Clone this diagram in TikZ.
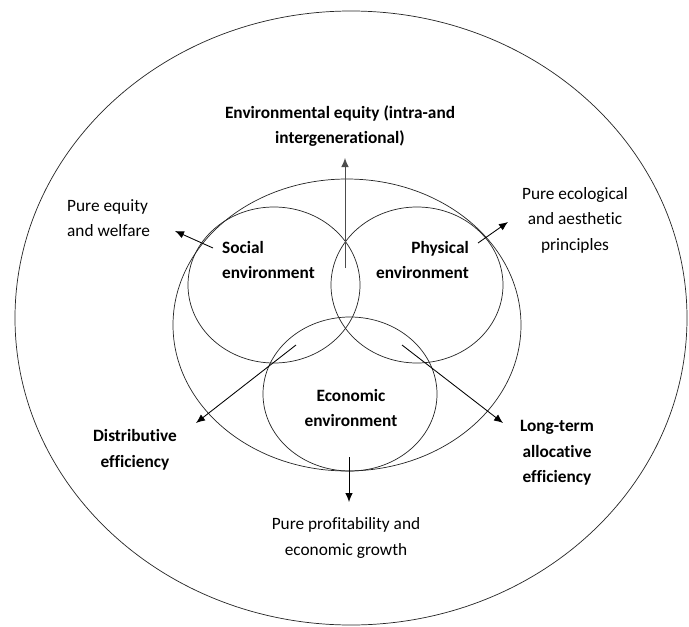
\documentclass[tikz,border=0pt]{standalone}
\usepackage{fontspec}
\setmainfont{Carlito}[Ligatures=NoCommon]
\usepackage{tikz}
\usetikzlibrary{arrows.meta}

\begin{document}
\begin{tikzpicture}[x=1pt, y=-1pt,
			mytext/.style={inner sep=0pt, font=\fontsize{17.3}{25.5}\selectfont},
			mybold/.style={mytext, font=\fontsize{17.3}{25.5}\selectfont\bfseries},
			myarrow/.style={-{Latex[length=9pt, width=7.5pt]}, line width = 0.3mm},
			myring/.style={line width = 0.25mm, black!85}
		]
		\useasboundingbox (0,0) rectangle (689,627);

		% rings
		\draw[myring] (351,318) ellipse [x radius=336pt, y radius=307pt];
		\draw[myring] (347,325) ellipse [x radius=174pt, y radius=146pt];
		\draw[myring] (274,285) ellipse [x radius=86pt, y radius=78pt];
		\draw[myring] (417,285) ellipse [x radius=86pt, y radius=78pt];
		\draw[myring] (350,394) ellipse [x radius=87pt, y radius=77pt];

		% labels inside
		\node[mybold, align=left, anchor=west] (social) at (222,260) {Social\\environment};
		\node[mybold, align=right, anchor=east] (physical) at (469,260) {Physical\\environment};
		\node[mybold, align=center] (economic) at (351,408) {Economic\\environment};

		% labels outside
		\node[mybold, align=center] (equity) at (340,126) {Environmental equity (intra-and\\intergenerational)};
		\node[mytext, align=left, anchor=west] (welfare) at (67,218) {Pure equity\\and welfare};
		\node[mytext, align=center] (ecology) at (575,220) {Pure ecological\\and aesthetic\\principles};
		\node[mytext, align=center] (profit) at (346,538) {Pure profitability and\\economic growth};
		\node[mybold, align=center] (distrib) at (135,450) {Distributive\\efficiency};
		\node[mybold, align=center] (alloc) at (557,453) {Long-term\\allocative\\efficiency};

		% arrow ends
		\coordinate (up0) at (345,268);
		\coordinate (up1) at (345,158);
		\coordinate (we0) at (213,248);
		\coordinate (we1) at (175,231);
		\coordinate (ec0) at (478,243);
		\coordinate (ec1) at (508,222);
		\coordinate (dn0) at (349,457);
		\coordinate (dn1) at (349,502);
		\coordinate (di0) at (296,345);
		\coordinate (di1) at (196,423);
		\coordinate (lo0) at (402,345);
		\coordinate (lo1) at (503,423);

		\draw[myarrow, black!70] (up0) -- (up1);
		\draw[myarrow] (we0) -- (we1);
		\draw[myarrow] (ec0) -- (ec1);
		\draw[myarrow] (dn0) -- (dn1);
		\draw[myarrow] (di0) -- (di1);
		\draw[myarrow] (lo0) -- (lo1);
	\end{tikzpicture}
\end{document}
